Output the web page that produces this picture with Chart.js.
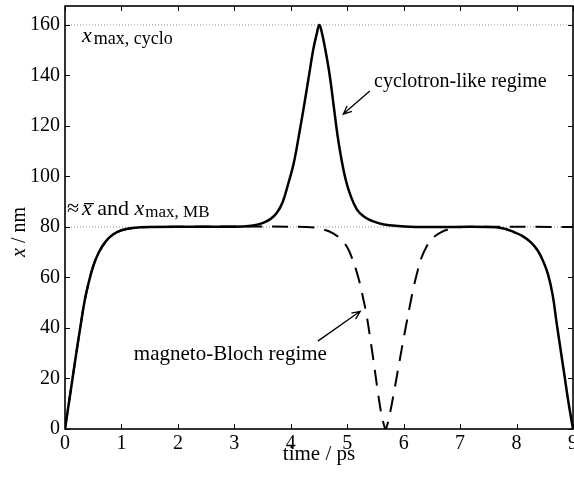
<!DOCTYPE html>
<html>
<head>
<meta charset="utf-8">
<script src="https://cdn.jsdelivr.net/npm/chart.js@4"></script>
<style>
  html, body { margin: 0; padding: 0; background: #fff; }
  canvas { display: block; }
</style>
</head>
<body>
<canvas id="chart" width="574" height="479"></canvas>
<script>
// cyclotron-like regime: time (ps) / position (nm)
const T_CYCLO = [0, 0.07, 0.14, 0.21, 0.28, 0.35, 0.42, 0.5, 0.6, 0.72, 0.85, 1.0, 1.2, 1.5,
  3.0, 3.3, 3.5, 3.65, 3.75, 3.85, 3.96, 4.05, 4.15, 4.25, 4.33, 4.4, 4.46, 4.505,
  4.55, 4.61, 4.69, 4.76, 4.83, 4.9, 4.97, 5.05, 5.17, 5.3, 5.45, 5.65, 5.9, 6.3,
  7.5, 7.75, 7.95, 8.1, 8.25, 8.38, 8.48, 8.56, 8.64, 8.71, 8.78, 8.85, 8.92, 9.0];
const X_CYCLO = [0, 10.5, 21, 31.5, 41.5, 51, 58, 64.5, 70, 74.2, 77, 78.7, 79.6, 80,
  80.1, 80.5, 81.5, 83.3, 85.5, 89.5, 97.5, 105, 117, 130, 141, 150.5, 156.5, 160,
  157, 150.5, 140, 128, 116, 106.5, 99, 93, 87, 84, 82.3, 81, 80.4, 80,
  80, 79.5, 78, 76.5, 74, 70.5, 66, 61, 53, 42, 31.5, 21, 10.5, 0];

// magneto-Bloch regime
const T_MB = [0, 0.07, 0.14, 0.21, 0.28, 0.35, 0.42, 0.5, 0.6, 0.72, 0.85, 1.0, 1.2, 1.5,
  4.28, 4.57, 4.75, 4.9, 5.0, 5.08, 5.15, 5.22, 5.28, 5.34, 5.4, 5.45, 5.5, 5.55, 5.6, 5.64, 5.68,
  5.72, 5.76, 5.82, 5.88, 5.94, 6.0, 6.06, 6.12, 6.18, 6.24, 6.31, 6.4, 6.5, 6.65, 6.85, 7.05, 9.0];
const X_MB = [0, 10.5, 21, 31.5, 41.5, 51, 58, 64.5, 70, 74.2, 77, 78.7, 79.6, 80,
  80, 79, 77.5, 74.8, 72, 68, 63.5, 58, 52, 45.5, 37, 29.5, 21.5, 13.5, 6.5, 2.5, 0,
  2.5, 6.5, 13.5, 21, 28.5, 36, 43, 50, 56.5, 62, 67.5, 72, 75.2, 77.8, 79.4, 80, 80];

// dotted reference levels
const LEVELS = [160, 80];

const X_TICKS = [0, 1, 2, 3, 4, 5, 6, 7, 8, 9];
const Y_TICKS = [0, 20, 40, 60, 80, 100, 120, 140, 160];

const SERIF = '"Liberation Serif", "Times New Roman", serif';

const toXY = (ts, vs) => ts.map((t, i) => ({ x: t, y: vs[i] }));

// text runs: [text, style, size, dy, overbar, gapBefore]
const drawRun = (ctx, x, y, parts) => {
    parts.forEach(p => {
        const [text, style, size, dy, bar, gap] = p;
        x += gap || 0;
        ctx.font = style + ' ' + size + 'px ' + SERIF;
        ctx.fillText(text, x, y + (dy || 0));
        const w = ctx.measureText(text).width;
        if (bar) {
            ctx.fillRect(x + 2, y - size * 0.55, w, 1.3);
        }
        x += w;
    });
};

const drawArrow = (ctx, x0, y0, x1, y1) => {
    const a = Math.atan2(y1 - y0, x1 - x0);
    const h = 9, s = 0.42;
    ctx.beginPath();
    ctx.moveTo(x0, y0);
    ctx.lineTo(x1, y1);
    ctx.moveTo(x1 - h * Math.cos(a - s), y1 - h * Math.sin(a - s));
    ctx.lineTo(x1, y1);
    ctx.lineTo(x1 - h * Math.cos(a + s), y1 - h * Math.sin(a + s));
    ctx.stroke();
};

// frame with inward ticks on all four sides, axis titles and notes
const decorPlugin = {
    id: 'decor',
    afterDraw(chart) {
        const ctx = chart.ctx, a = chart.chartArea;
        const sx = chart.scales.x, sy = chart.scales.y;
        const P = (t, v) => [sx.getPixelForValue(t), sy.getPixelForValue(v)];
        ctx.save();
        ctx.strokeStyle = '#000';
        ctx.fillStyle = '#000';
        ctx.lineWidth = 1.6;
        ctx.strokeRect(a.left, a.top, a.right - a.left, a.bottom - a.top);
        ctx.lineWidth = 1;
        ctx.beginPath();
        X_TICKS.forEach(t => {
            const x = Math.round(sx.getPixelForValue(t)) + 0.5;
            ctx.moveTo(x, a.bottom); ctx.lineTo(x, a.bottom - 5);
            ctx.moveTo(x, a.top); ctx.lineTo(x, a.top + 5);
        });
        Y_TICKS.forEach(v => {
            const y = Math.round(sy.getPixelForValue(v)) + 0.5;
            ctx.moveTo(a.left, y); ctx.lineTo(a.left + 5, y);
            ctx.moveTo(a.right, y); ctx.lineTo(a.right - 5, y);
        });
        ctx.stroke();

        // axis titles
        ctx.textAlign = 'center';
        ctx.textBaseline = 'alphabetic';
        ctx.font = '21px ' + SERIF;
        ctx.fillText('time / ps', (a.left + a.right) / 2, 460);
        ctx.save();
        ctx.translate(25, 232);
        ctx.rotate(-Math.PI / 2);
        ctx.textAlign = 'left';
        ctx.font = 'italic 20px ' + SERIF;
        const wx = ctx.measureText('x').width;
        ctx.font = '20px ' + SERIF;
        const wr = ctx.measureText(' / nm').width;
        drawRun(ctx, -(wx + wr) / 2, 0, [['x', 'italic', 20], [' / nm', 'normal', 20]]);
        ctx.restore();

        // notes on the levels and regimes
        ctx.textAlign = 'left';
        let p = P(0.30, 153.2);
        drawRun(ctx, p[0], p[1], [['x', 'italic', 22], ['max, cyclo', 'normal', 18, 2, false, 2]]);
        p = P(0.035, 84.7);
        drawRun(ctx, p[0], p[1], [['\u2248', 'normal', 22], ['x', 'italic', 22, 0, true, 3], [' and ', 'normal', 22],
            ['x', 'italic', 22], ['max, MB', 'normal', 17, 2, false, 1]]);
        p = P(5.475, 135.5);
        drawRun(ctx, p[0], p[1], [['cyclotron-like regime', 'normal', 20]]);
        p = P(1.22, 27.2);
        drawRun(ctx, p[0], p[1], [['magneto-Bloch regime', 'normal', 21]]);

        ctx.lineWidth = 1.3;
        let q0 = P(5.40, 133.8), q1 = P(4.93, 124.7);
        drawArrow(ctx, q0[0], q0[1], q1[0], q1[1]);
        q0 = P(4.48, 34.8); q1 = P(5.23, 46.6);
        drawArrow(ctx, q0[0], q0[1], q1[0], q1[1]);
        ctx.restore();
    }
};

const levelSets = LEVELS.map(v => ({
    data: [{ x: X_TICKS[0], y: v }, { x: X_TICKS[X_TICKS.length - 1], y: v }],
    borderColor: '#8a8a8a', borderWidth: 1, borderDash: [1, 2], pointRadius: 0, tension: 0, order: 3
}));

const fitScale = (s, key, size) => {
    s[key] = size;
    s.paddingLeft = 0; s.paddingRight = 0; s.paddingTop = 0; s.paddingBottom = 0;
};

new Chart(document.getElementById('chart'), {
    type: 'line',
    data: {
        datasets: [
            { label: 'cyclotron-like', data: toXY(T_CYCLO, X_CYCLO), borderColor: '#000', borderWidth: 2.5,
              pointRadius: 0, tension: 0.4, order: 1 },
            { label: 'magneto-Bloch', data: toXY(T_MB, X_MB), borderColor: '#000', borderWidth: 2,
              borderDash: [16, 10], pointRadius: 0, tension: 0.4, order: 2 }
        ].concat(levelSets)
    },
    options: {
        responsive: false,
        animation: false,
        events: [],
        layout: { padding: { top: 6, right: 1, left: 0, bottom: 0 } },
        plugins: { legend: { display: false }, tooltip: { enabled: false } },
        scales: {
            x: {
                type: 'linear', min: 0, max: 9,
                grid: { display: false, drawTicks: false }, border: { display: false },
                afterBuildTicks: s => { s.ticks = X_TICKS.map(v => ({ value: v })); },
                afterFit: s => fitScale(s, 'height', 50),
                ticks: { padding: 3, color: '#000', maxRotation: 0, autoSkip: false, font: { family: SERIF, size: 20 } }
            },
            y: {
                type: 'linear', min: 0, max: 167.5,
                grid: { display: false, drawTicks: false }, border: { display: false },
                afterBuildTicks: s => { s.ticks = Y_TICKS.map(v => ({ value: v })); },
                afterFit: s => fitScale(s, 'width', 65),
                ticks: { padding: 5, color: '#000', autoSkip: false, font: { family: SERIF, size: 20 } }
            }
        }
    },
    plugins: [decorPlugin]
});
</script>
</body>
</html>
